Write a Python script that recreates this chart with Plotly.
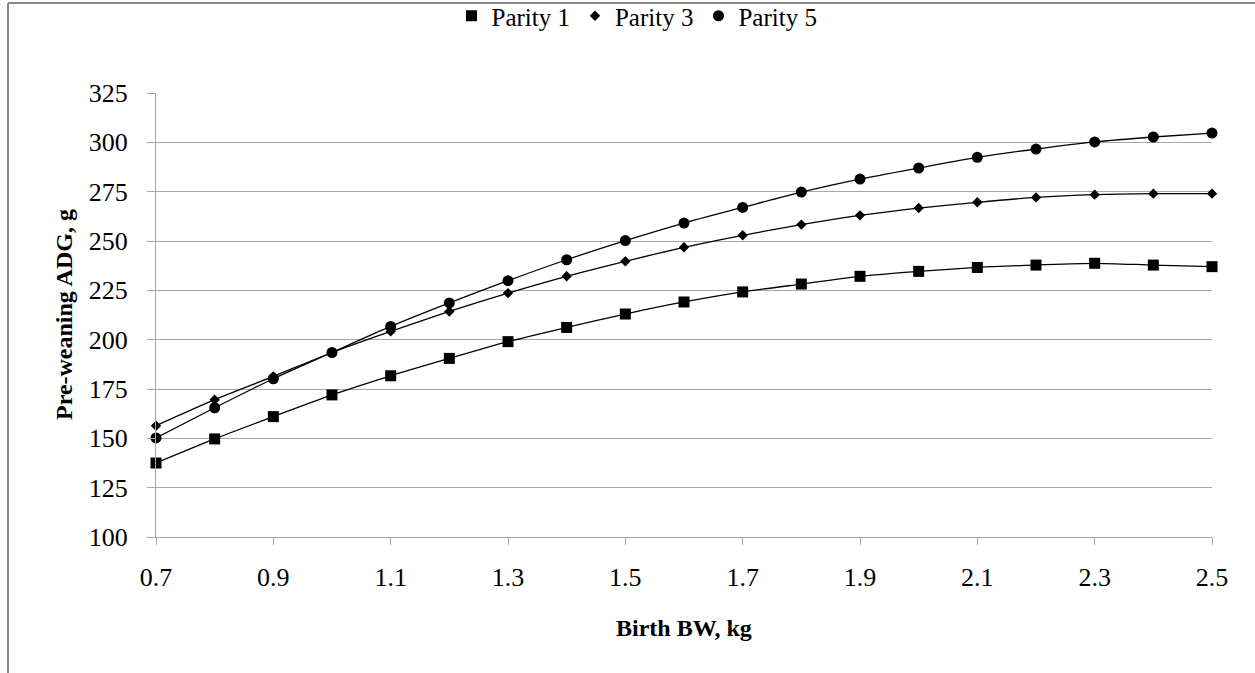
import plotly.graph_objects as go

birth_bw = [0.7, 0.8, 0.9, 1.0, 1.1, 1.2, 1.3, 1.4, 1.5, 1.6, 1.7, 1.8, 1.9, 2.0, 2.1, 2.2, 2.3, 2.4, 2.5]
parity1 = [137.5, 149.7, 161.0, 172.0, 181.7, 190.5, 199.0, 206.2, 213.0, 219.1, 224.2, 228.2, 232.1, 234.6, 236.6, 237.8, 238.7, 237.8, 237.0]
parity3 = [156.4, 169.6, 181.4, 193.5, 204.2, 214.3, 223.6, 232.1, 239.7, 246.8, 252.9, 258.3, 263.0, 266.7, 269.6, 272.1, 273.5, 274.0, 274.0]
parity5 = [150.2, 165.5, 180.2, 193.5, 206.7, 218.6, 229.9, 240.5, 250.2, 259.1, 267.0, 274.8, 281.4, 287.0, 292.4, 296.6, 300.2, 302.7, 304.7]
series_names = ["Parity 1", "Parity 3", "Parity 5"]
x_ticks = [0.7, 0.9, 1.1, 1.3, 1.5, 1.7, 1.9, 2.1, 2.3, 2.5]
y_ticks = [100, 125, 150, 175, 200, 225, 250, 275, 300, 325]

FONT = "Liberation Serif, Times New Roman, serif"
GRID = "#A6A6A6"
symbols = ["square", "diamond", "circle"]
sizes = [11, 8, 11]

fig = go.Figure()
for name, vals, sym, sz in zip(series_names, [parity1, parity3, parity5], symbols, sizes):
    fig.add_trace(go.Scatter(
        x=birth_bw, y=vals, name=name, mode="lines+markers",
        line=dict(color="black", width=1.3, shape="spline", smoothing=0.7),
        marker=dict(symbol=sym, size=sz, color="black", line=dict(width=0)),
        cliponaxis=False, showlegend=False,
    ))
# legend entries (marker only, as in the original)
for name, sym, sz in zip(series_names, symbols, sizes):
    fig.add_trace(go.Scatter(
        x=[None], y=[None], name=name, mode="markers",
        marker=dict(symbol=sym, size=sz, color="black"), showlegend=True,
    ))

W, H = 1255, 673
L, R, T, B = 156, 43, 93, 136
pw, ph = W - L - R, H - T - B

def px_x(p):
    return (p - L) / pw

def px_y(p):
    return 1 - (p - T) / ph

fig.update_layout(
    width=W, height=H,
    margin=dict(l=L, r=R, t=T, b=B, pad=0, autoexpand=False),
    paper_bgcolor="white", plot_bgcolor="white",
    font=dict(family=FONT, size=26, color="black"),
    legend=dict(
        orientation="h", x=px_x(637), y=px_y(16), xanchor="center", yanchor="middle",
        font=dict(family=FONT, size=25, color="black"),
        itemwidth=30, tracegroupgap=0, bgcolor="rgba(0,0,0,0)",
    ),
    xaxis=dict(
        range=[0.7, 2.5], tickvals=x_ticks, ticktext=[f"{v:.1f}" for v in x_ticks],
        showgrid=False, zeroline=False, showline=True, linecolor=GRID, linewidth=1.3,
        ticks="outside", ticklen=7, tickcolor=GRID, tickwidth=1.3,
        ticklabelstandoff=10, tickfont=dict(family=FONT, size=26, color="black"),
        automargin=False,
    ),
    yaxis=dict(
        range=[100, 325], tickvals=y_ticks,
        showgrid=True, gridcolor=GRID, gridwidth=1.3, zeroline=False,
        showline=True, linecolor=GRID, linewidth=1.3,
        ticks="outside", ticklen=8, tickcolor=GRID, tickwidth=1.3,
        ticklabelstandoff=14, tickfont=dict(family=FONT, size=26, color="black"),
        automargin=False,
    ),
    annotations=[
        dict(text="<b>Birth BW, kg</b>", xref="paper", yref="paper",
             x=px_x(684), y=px_y(628), xanchor="center", yanchor="middle",
             showarrow=False, font=dict(family=FONT, size=24, color="black")),
        dict(text="<b>Pre-weaning ADG, g</b>", xref="paper", yref="paper",
             x=px_x(64), y=0.5, xanchor="center", yanchor="middle", textangle=-90,
             showarrow=False, font=dict(family=FONT, size=24, color="black")),
    ],
    shapes=[
        dict(type="line", xref="paper", yref="paper", x0=px_x(8), x1=px_x(W + 10),
             y0=px_y(3), y1=px_y(3), line=dict(color="#888888", width=2)),
        dict(type="line", xref="paper", yref="paper", x0=px_x(8), x1=px_x(8),
             y0=px_y(3), y1=px_y(H + 10), line=dict(color="#888888", width=2)),
    ],
)

fig.write_html("out.html")
